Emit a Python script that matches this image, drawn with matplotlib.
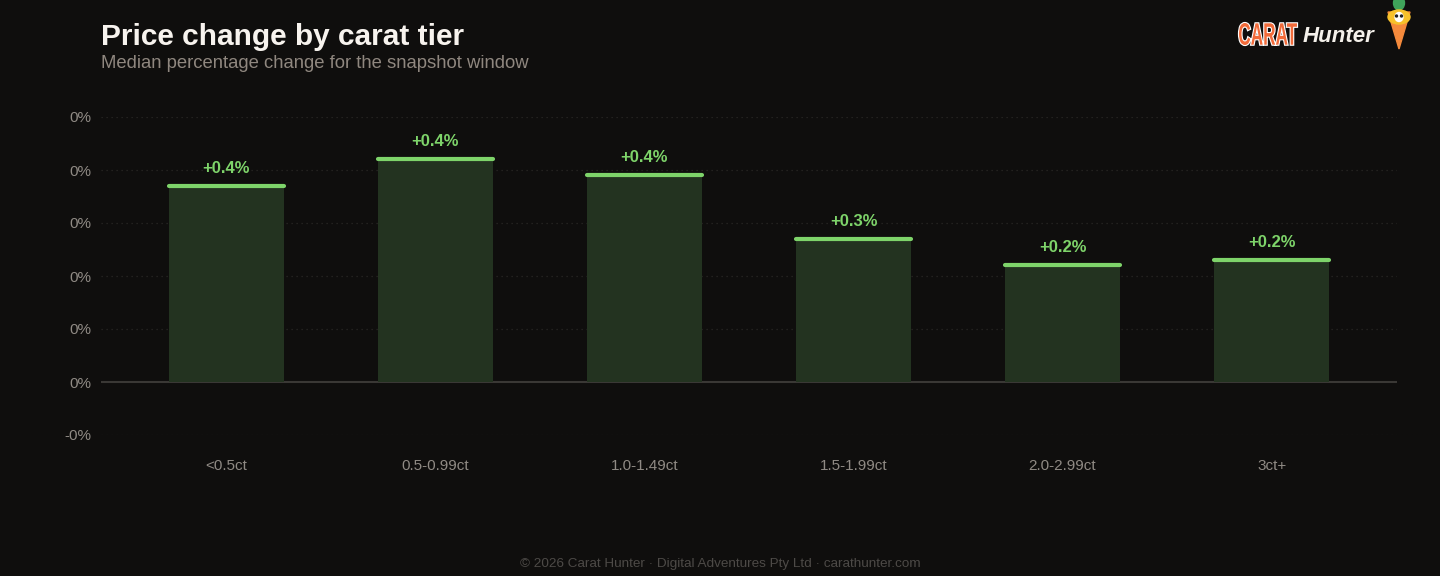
import matplotlib
matplotlib.use("Agg")
import matplotlib.pyplot as plt
from matplotlib.patches import Polygon, Ellipse, PathPatch
from matplotlib.textpath import TextPath
from matplotlib.font_manager import FontProperties
from matplotlib.transforms import Affine2D
from matplotlib.ticker import FuncFormatter

plt.rcParams['font.family'] = ['Liberation Sans', 'DejaVu Sans']

categories = ["<0.5ct", "0.5-0.99ct", "1.0-1.49ct", "1.5-1.99ct", "2.0-2.99ct", "3ct+"]
values = [0.370, 0.421, 0.391, 0.270, 0.221, 0.230]
labels = ["+0.4%", "+0.4%", "+0.4%", "+0.3%", "+0.2%", "+0.2%"]
yticks = [-0.1, 0.0, 0.1, 0.2, 0.3, 0.4, 0.5]

BG = "#0f0e0d"
GREEN = "#7ed46a"
BARFILL = "#233320"
TICKC = "#8f8a84"

fig = plt.figure(figsize=(14.4, 5.76), dpi=100, facecolor=BG)
ax = fig.add_axes([101/1440, 1-435/576, (1397-101)/1440, (435-117)/576])
ax.set_facecolor(BG)

x = list(range(len(categories)))
ax.bar(x, values, width=0.55, color=BARFILL, zorder=2)
for xi, v, lab in zip(x, values, labels):
    ax.plot([xi-0.275, xi+0.275], [v, v], color=GREEN, lw=3, solid_capstyle='round', zorder=3)
    ax.annotate(lab, (xi, v), xytext=(0, 7), textcoords='offset points',
                ha='center', va='bottom', color=GREEN, fontsize=12, fontweight='bold', zorder=4)

ax.set_xlim(-0.6, 5.6)
ax.set_ylim(-0.1, 0.5)
ax.set_yticks(yticks)
ax.yaxis.set_major_formatter(FuncFormatter(lambda v, p: f"{v:.0f}%"))
ax.set_xticks(x)
ax.set_xticklabels(categories)
ax.tick_params(axis='both', length=0, colors=TICKC, labelsize=11)
ax.tick_params(axis='x', pad=17.5)
ax.tick_params(axis='y', pad=7)
for s in ax.spines.values():
    s.set_visible(False)
for t in yticks:
    if t == 0:
        ax.axhline(0, color="#3a3835", lw=1.5, zorder=1)
    else:
        ax.axhline(t, color="#2a2826", lw=0.9, ls=(0, (1, 3)), zorder=1)

fig.text(101/1440, 1-37/576, "Price change by carat tier", color="#f7f3ee",
         fontsize=21.5, fontweight='bold', va='center', ha='left')
fig.text(101/1440, 1-63/576, "Median percentage change for the snapshot window", color="#8f877f",
         fontsize=13.3, va='center', ha='left')
fig.text(0.5, 1-564/576, "\u00a9 2026 Carat Hunter \u00b7 Digital Adventures Pty Ltd \u00b7 carathunter.com",
         color="#4d4a47", fontsize=9.7, ha='center', va='center')

# logo: condensed "CARAT" via scaled text path, in pixel coordinates
lg = fig.add_axes([0, 0, 1, 1], facecolor='none')
lg.set_xlim(0, 1440); lg.set_ylim(576, 0); lg.axis('off')
tp = TextPath((0, 0), "CARAT", size=26, prop=FontProperties(family='Liberation Sans', weight='bold'))
bb = tp.get_extents()
sx = 58 / bb.width
sy = 22 / bb.height
tr = Affine2D().translate(-bb.x0, -bb.y0).scale(sx, -sy).translate(1239, 45)
path = tr.transform_path(tp)
lg.add_patch(PathPatch(path, facecolor="#f26b3a", edgecolor='white', lw=1.6, zorder=5))
lg.add_patch(PathPatch(path, facecolor="#f26b3a", edgecolor='none', zorder=6))
lg.text(1303, 36, "Hunter", color="#f4f0ea", fontsize=16, fontweight='bold',
        style='italic', ha='left', va='center')
lg.add_patch(Ellipse((1399, 3), 11, 14, color="#3fa35a"))
lg.add_patch(Polygon([[1388, 12], [1410, 12], [1399, 49]], closed=True, color="#f58a3c"))
lg.add_patch(Ellipse((1399, 17), 22, 14, color="#f7c12a"))
lg.add_patch(Ellipse((1399, 17), 8, 9, color="white"))
lg.add_patch(Ellipse((1396.5, 16), 2, 2, color="#222"))
lg.add_patch(Ellipse((1401.5, 16), 2, 2, color="#222"))

fig.savefig("out.png", dpi=100, facecolor=BG)
